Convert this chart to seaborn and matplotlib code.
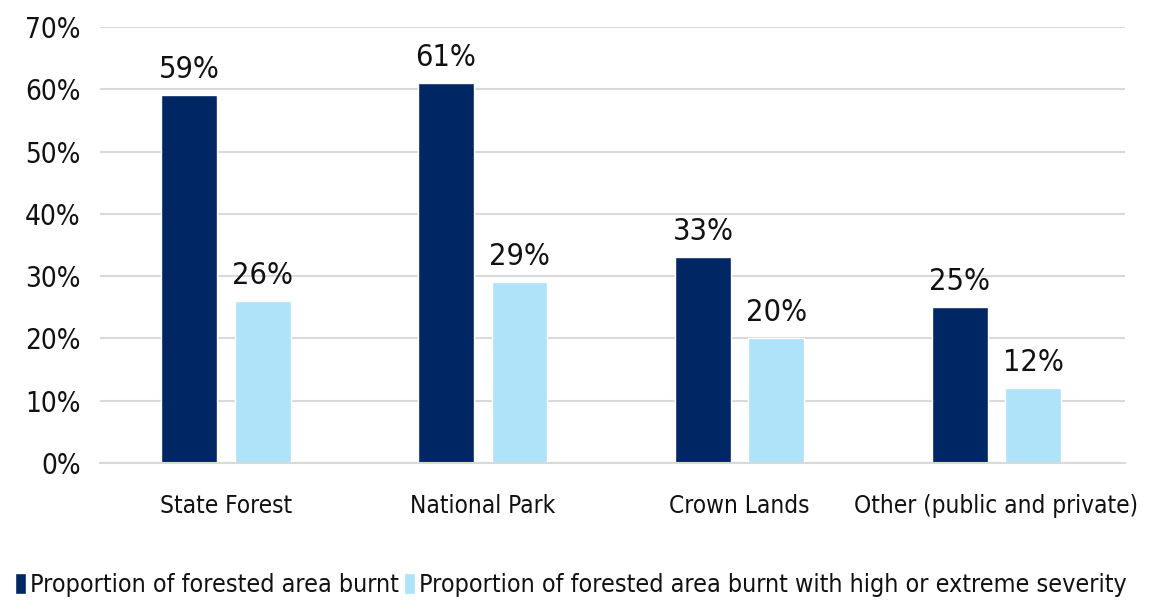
import matplotlib
matplotlib.use("Agg")
import matplotlib.pyplot as plt
import seaborn as sns
import pandas as pd
from matplotlib.patches import Patch

categories = ["State Forest", "National Park", "Crown Lands", "Other (public and private)"]
burnt = [59, 61, 33, 25]
severe = [26, 29, 20, 12]
series_names = ["Proportion of forested area burnt",
                "Proportion of forested area burnt with high or extreme severity"]
colors = ["#002664", "#AEE3F9"]

df = pd.DataFrame({
    "cat": categories * 2,
    "val": burnt + severe,
    "series": [series_names[0]] * 4 + [series_names[1]] * 4,
})

sns.set_theme(style="white")
plt.rcParams['font.family'] = ['DejaVu Sans']
plt.rcParams['font.stretch'] = 'condensed'

fig = plt.figure(figsize=(11.58, 6.09), dpi=100)
ax = fig.add_axes([0.0864, 0.2397, 0.885, 0.716])

sns.barplot(data=df, x="cat", y="val", hue="series", palette=colors,
            width=0.572, gap=0.24, ax=ax, legend=False, saturation=1)

for c in ax.containers:
    ax.bar_label(c, labels=[f"{int(round(v))}%" for v in c.datavalues],
                 padding=8, fontsize=22, color="#111111")

ax.set_ylim(0, 70)
ax.set_xlim(-0.49, 3.5)
ax.set_yticks(range(0, 71, 10))
ax.set_yticklabels([f"{v}%" for v in range(0, 71, 10)], fontsize=20, color="#111111")
ax.tick_params(axis="x", labelsize=17.5, colors="#111111", pad=22, length=0)
ax.tick_params(axis="y", pad=14, length=0)
ax.set_xlabel("")
ax.set_ylabel("")
ax.grid(axis="y", color="#D9D9D9", linewidth=1.5)
ax.set_axisbelow(True)
for s in ["top", "right", "left"]:
    ax.spines[s].set_visible(False)
ax.spines["bottom"].set_color("#D9D9D9")
ax.spines["bottom"].set_linewidth(1.5)

handles = [Patch(facecolor=colors[0]), Patch(facecolor=colors[1])]
fig.legend(handles, series_names, loc="lower left", bbox_to_anchor=(0.0, -0.005),
           ncol=2, frameon=False, fontsize=18, handlelength=0.45, handleheight=0.9,
           handletextpad=0.15, columnspacing=0.2, borderaxespad=0.2,
           labelcolor="#111111")

fig.savefig("out.png", dpi=100)
